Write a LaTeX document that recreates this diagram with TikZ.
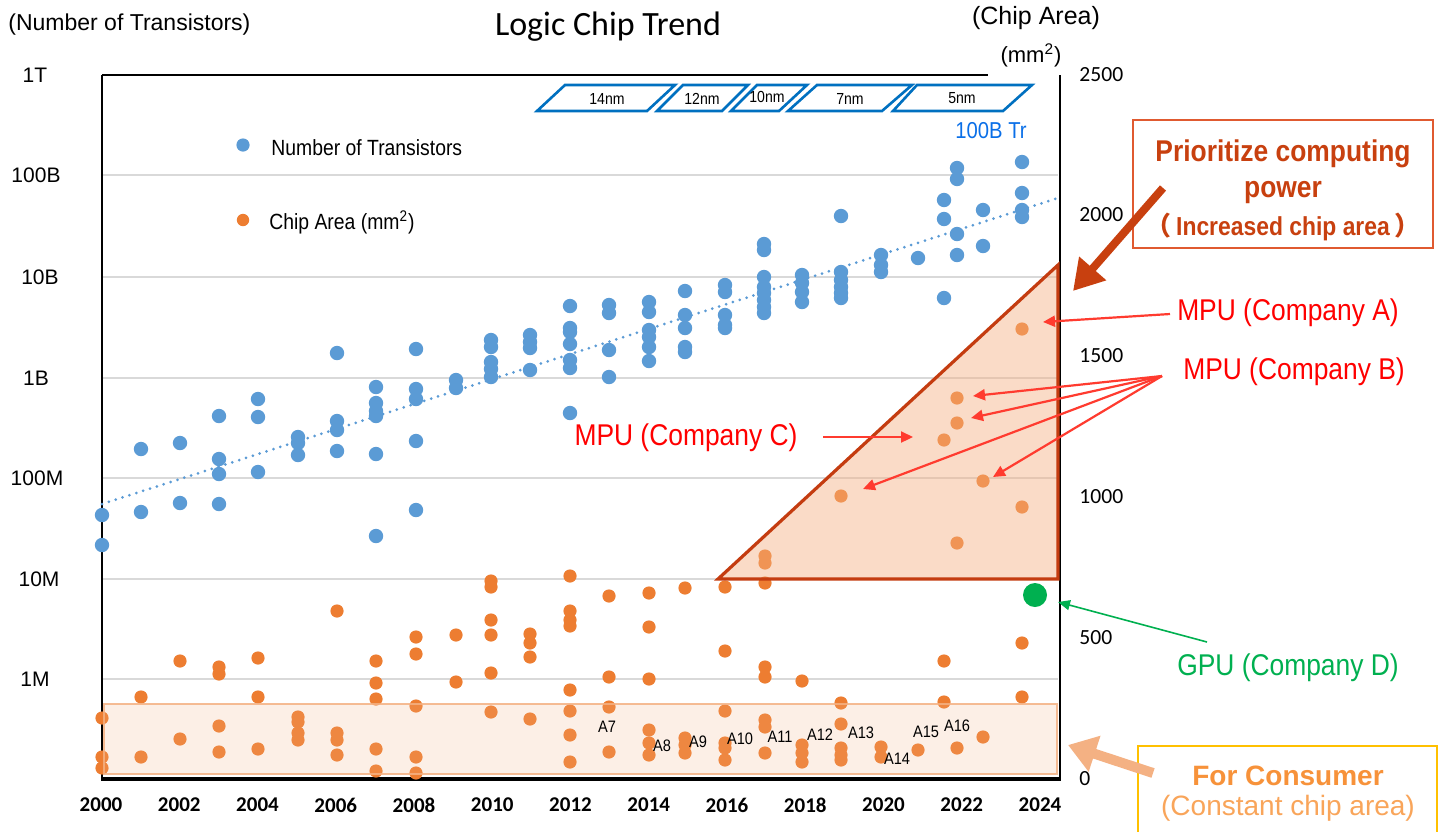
\documentclass[tikz,border=0pt]{standalone}
\usepackage{fontspec}
\setmainfont{Liberation Sans}
\newfontfamily\carl{Carlito}
\newfontfamily\nar{Liberation Sans}[FakeStretch=0.88]
\newfontfamily\cjk{Noto Sans CJK SC}
\usetikzlibrary{arrows.meta}
\definecolor{tblue}{HTML}{5B9BD5}
\definecolor{torange}{HTML}{ED7D31}
\definecolor{tri}{HTML}{C43C10}
\definecolor{peach}{HTML}{F4B183}
\definecolor{priotxt}{HTML}{C8400F}
\definecolor{priobox}{HTML}{E05A30}
\definecolor{redarr}{HTML}{FF3B2F}
\definecolor{nmblue}{HTML}{0070C0}
\definecolor{trblue}{HTML}{0A6FE8}
\definecolor{gpugreen}{HTML}{00B050}
\definecolor{consorange}{HTML}{F7923A}
\definecolor{conslight}{HTML}{F9A55A}
\definecolor{consbox}{HTML}{FFC000}
\definecolor{gridc}{HTML}{D9D9D9}
\tikzset{
  ltick/.style={font=\fontsize{10.5}{12}\selectfont, inner sep=0pt},
  rtick/.style={font=\carl\fontsize{10.8}{12}\selectfont, anchor=west, inner sep=0pt},
  xtick/.style={font=\carl\bfseries\fontsize{10.5}{12}\selectfont, inner sep=0pt},
  nmbox/.style={draw=nmblue, line width=1.3pt, line join=miter, fill=white},
  nmlab/.style={font=\nar\fontsize{8}{9}\selectfont, inner sep=0pt},
  alab/.style={font=\nar\fontsize{8.3}{9}\selectfont, inner sep=0pt},
  redlab/.style={font=\nar\fontsize{15}{17}\selectfont, text=red, inner sep=0pt},
  redarrow/.style={draw=redarr, line width=1.1pt, -{Triangle[length=6pt,width=5.5pt]}},
  legtxt/.style={font=\nar\fontsize{11}{13}\selectfont, anchor=west, inner sep=0pt},
}
\begin{document}
\begin{tikzpicture}[x=0.5pt,y=-0.5pt]
\clip (0,0) rectangle (1440,831);
\fill[white] (0,0) rectangle (1440,831);

% grid lines
\foreach \gy in {175,277,378,478,579,679}
  \draw[gridc, line width=0.8pt] (103,\gy) -- (1058,\gy);

% frame
\draw[black, line width=1pt] (102,75) -- (988,75);
\draw[black, line width=1pt] (1060,75) -- (1060,779);
\draw[black, line width=1.4pt] (102,75) -- (102,779);
\draw[black, line width=1.6pt] (101,779) -- (1061,779);

% trend line
\draw[tblue, line width=1.5pt, line cap=round, dash pattern=on 0pt off 3.6pt] (102,504) -- (1058,198);

% blue points
\foreach \px/\py in {102/515,102/545,141/449,141/512,180/443,180/503,
 219/416,219/459,219/474,219/504,258/399,258/417,258/472,298/437,298/443,298/455,
 337/353,337/421,337/430,337/451,376/387,376/403,376/411,376/416,376/454,376/536,
 416/349,416/389,416/399,416/441,416/510,456/380,456/388,
 491/340,491/347,491/362,491/369,491/377,530/335,530/342,530/348,530/370,
 570/306,570/328,570/332,570/344,570/360,570/368,570/413,
 609/305,609/313,609/350,609/377,649/302,649/312,649/330,649/337,649/347,649/361,
 685/291,685/315,685/328,685/347,685/352,725/285,725/292,725/315,725/325,725/328,
 764/244,764/250,764/277,764/287,764/293,764/300,764/307,764/313,
 802/275,802/283,802/292,802/302,841/216,841/272,841/280,841/287,841/293,841/298,
 881/255,881/265,881/272,918/258,944/200,944/219,944/298,
 957/168,957/179,957/234,957/255,983/210,983/246,1022/162,1022/193,1022/210,1022/217}
  {\fill[tblue] (\px,\py) circle[radius=3.6pt];}

% orange points
\foreach \px/\py in {102/718,102/757,102/768,141/697,141/757,180/661,180/739,
 219/667,219/674,219/726,219/752,258/658,258/697,258/749,298/717,298/722,298/733,298/740,
 337/611,337/733,337/740,337/755,376/661,376/683,376/699,376/749,376/771,
 416/637,416/654,416/706,416/757,416/773,456/635,456/682,
 491/581,491/587,491/620,491/635,491/673,491/712,530/634,530/643,530/657,530/719,
 570/576,570/611,570/620,570/626,570/690,570/711,570/735,570/762,
 609/596,609/677,609/707,609/752,649/593,649/627,649/679,649/730,649/743,649/755,
 685/588,685/738,685/745,685/753,725/587,725/651,725/711,725/743,725/748,725/760,
 765/556,765/563,765/583,765/667,765/677,765/720,765/727,765/753,
 802/681,802/745,802/753,802/762,841/496,841/703,841/724,841/748,841/755,841/760,
 881/747,881/757,918/750,944/440,944/661,944/702,957/398,957/423,957/543,957/748,
 983/481,983/737,1022/329,1022/507,1022/643,1022/697}
  {\fill[torange] (\px,\py) circle[radius=3.3pt];}

% GPU point
\fill[gpugreen] (1035,595) circle[radius=6pt];

% consumer band
\fill[peach, fill opacity=0.2] (104,704) rectangle (1057,774);
\draw[peach, line width=1.3pt, opacity=0.85] (104,704) rectangle (1057,774);

% computing triangle
\fill[peach, fill opacity=0.45] (718,579) -- (1058,265) -- (1058,579) -- cycle;
\draw[tri, line width=1.6pt, line join=miter] (718,579) -- (1058,265) -- (1058,579) -- cycle;

% process nodes
\draw[nmbox] (537,111) -- (565,85) -- (675,85) -- (647,111) -- cycle;
\node[nmlab] (n14) at (607,99) {14nm};
\draw[nmbox] (657,111) -- (683,85) -- (748,85) -- (722,111) -- cycle;
\node[nmlab] (n12) at (702,99) {12nm};
\draw[nmbox] (731,111) -- (757,85) -- (807,85) -- (779,111) -- cycle;
\node[nmlab] (n10) at (767,97) {10nm};
\draw[nmbox] (788,111) -- (817,85) -- (912,85) -- (882,111) -- cycle;
\node[nmlab] (n7) at (850,99) {7nm};
\draw[nmbox] (893,111) -- (917,85) -- (1032,85) -- (1003,111) -- cycle;
\node[nmlab] (n5) at (962,98) {5nm};

% legend
\fill[tblue] (243,145) circle[radius=3.3pt];
\node[legtxt] (legb) at (271,148) {Number of Transistors};
\fill[torange] (243,220) circle[radius=3.1pt];
\node[legtxt] (lego) at (269,222) {Chip Area (mm\textsuperscript{2})};

% titles and axis captions
\node[font=\fontsize{11.5}{13}\selectfont, anchor=west, inner sep=0pt] (ylab) at (8,25) {(Number of Transistors)};
\node[font=\carl\fontsize{17}{20}\selectfont, inner sep=0pt] (title) at (608,27) {Logic Chip Trend};
\node[font=\fontsize{12.5}{14}\selectfont, inner sep=0pt] (y2lab) at (1036,18) {(Chip Area)};
\node[font=\fontsize{11}{13}\selectfont, inner sep=0pt] (y2unit) at (1031,55) {(mm\textsuperscript{2})};

% left ticks
\node[ltick] (t1T) at (35,75) {1T};
\node[ltick] (t100B) at (36,175) {100B};
\node[ltick] (t10B) at (40,277) {10B};
\node[ltick] (t1B) at (36,378) {1B};
\node[ltick] (t100M) at (37,478) {100M};
\node[ltick] (t10M) at (39,579) {10M};
\node[ltick] (t1M) at (35,679) {1M};

% right ticks
\foreach \v/\yy in {2500/75,2000/215,1500/356,1000/497,500/638,0/779}
  \node[rtick] (r\v) at (1079,\yy) {\v};

% bottom ticks
\foreach \yr [count=\i from 0] in {2000,2002,2004,2006,2008,2010,2012,2014,2016,2018,2020,2022,2024}
  \node[xtick] (yr\yr) at ({101+\i*78.25},805) {\yr};

% A-series labels
\node[alab] (a7) at (607,727) {A7};
\node[alab] (a8) at (662,746) {A8};
\node[alab] (a9) at (698,742) {A9};
\node[alab] (a10) at (740,739) {A10};
\node[alab] (a11) at (780,737) {A11};
\node[alab] (a12) at (820,735) {A12};
\node[alab] (a13) at (861,733) {A13};
\node[alab] (a14) at (897,759) {A14};
\node[alab] (a15) at (926,732) {A15};
\node[alab] (a16) at (957,726) {A16};

\node[font=\nar\fontsize{11.5}{13}\selectfont, text=trblue, inner sep=0pt] (trlab) at (991,131) {100B Tr};

% prioritize box and arrow
\node[draw=priobox, line width=0.8pt, minimum width=150pt, minimum height=64pt, inner sep=0pt]
  (prio) at (1283,184) {};
\node[text=priotxt, align=center, font=\nar\bfseries\fontsize{15}{18}\selectfont, inner sep=0pt]
  (priot) at (1283,190) {Prioritize computing\\power\\[1pt]{\fontsize{13}{15}\selectfont{\cjk （}\,Increased chip area\,{\cjk ）}}};
\coordinate (ps) at (1163,188);
\coordinate (pt) at (1073,291);
\draw[priotxt, line width=4pt, -{Triangle[length=15pt,width=17pt]}] (ps) -- (pt);

% MPU labels and arrows
\node[redlab] (mpua) at (1288,313) {MPU (Company A)};
\node[redlab] (mpub) at (1294,372) {MPU (Company B)};
\node[redlab] (mpuc) at (686,438) {MPU (Company C)};
\coordinate (as) at (1170,314);
\coordinate (ae) at (1043,322);
\draw[redarrow] (as) -- (ae);
\coordinate (bs) at (1162,376);
\coordinate (b1) at (973,396);
\coordinate (b2) at (971,418);
\coordinate (b3) at (863,489);
\coordinate (b4) at (993,477);
\draw[redarrow] (bs) -- (b1);
\draw[redarrow] (bs) -- (b2);
\draw[redarrow] (bs) -- (b3);
\draw[redarrow] (bs) -- (b4);
\coordinate (cs) at (823,437);
\coordinate (ce) at (913,437);
\draw[redarrow] (cs) -- (ce);

% GPU label and arrow
\node[font=\nar\fontsize{15}{17}\selectfont, text=gpugreen, inner sep=0pt] (gpu) at (1288,668) {GPU (Company D)};
\coordinate (gs) at (1207,642);
\coordinate (ge) at (1058,602);
\draw[gpugreen, line width=0.8pt, -{Triangle[length=6pt,width=5pt]}] (gs) -- (ge);

% consumer box and arrow
\draw[consbox, line width=0.8pt] (1138,746) rectangle (1437,860);
\node[font=\bfseries\fontsize{14}{16}\selectfont, text=consorange, inner sep=0pt] (cons) at (1288,776) {For Consumer};
\node[font=\fontsize{14}{16}\selectfont, text=conslight, inner sep=0pt] (consb) at (1288,808) {(Constant chip area)};
\coordinate (ks) at (1153,773);
\coordinate (ke) at (1068,745);
\draw[peach, line width=5pt, -{Triangle[length=14pt,width=18pt]}] (ks) -- (ke);

\end{tikzpicture}
\end{document}
